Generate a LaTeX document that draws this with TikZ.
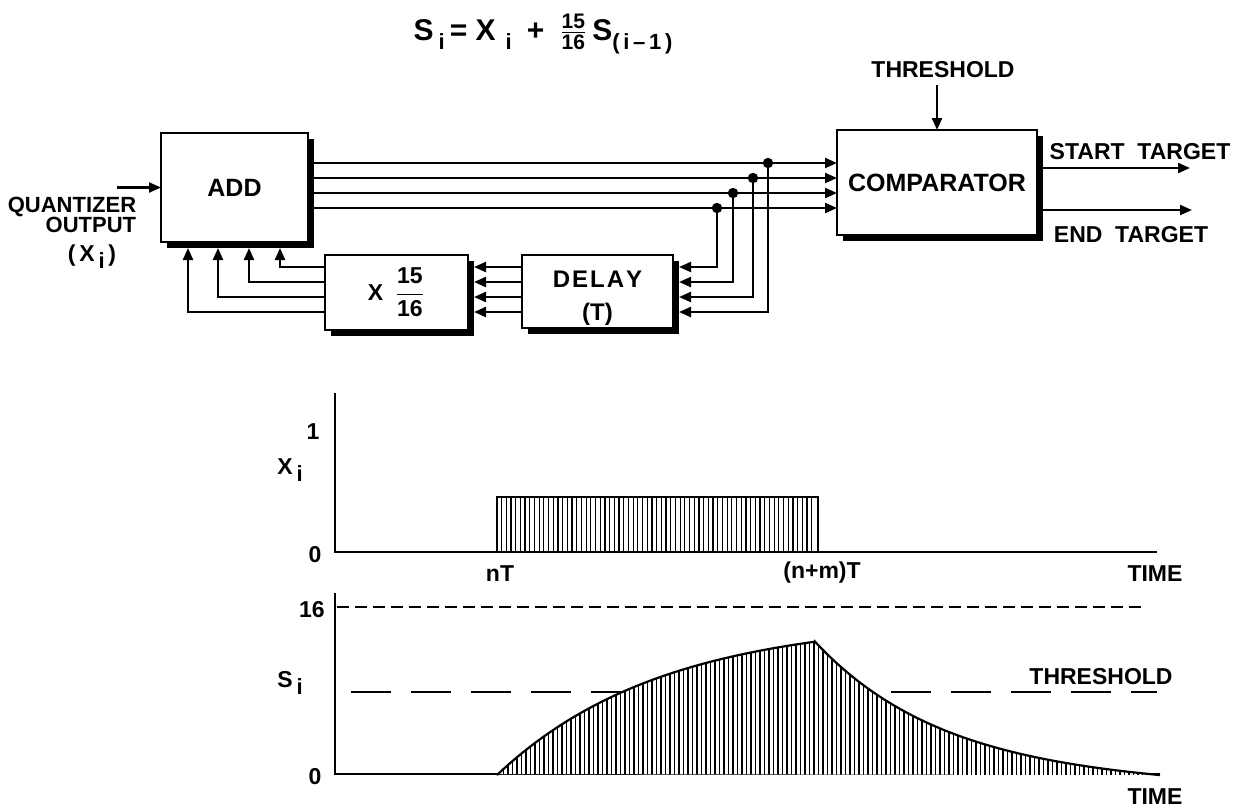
\documentclass[tikz,border=0pt]{standalone}
\usepackage{amsmath}
\usepackage{fontspec}
\setmainfont{Liberation Sans}
\usetikzlibrary{arrows.meta,shadows}

\newcommand{\lowsub}[1]{\raisebox{-0.6ex}{\fontsize{11pt}{11pt}\selectfont\bfseries #1}}

\tikzset{
  blk/.style={draw, line width=1pt, fill=white, inner sep=0pt, outer sep=0pt, align=center,
    drop shadow={shadow xshift=3pt, shadow yshift=-3pt, opacity=1, fill=black}},
  wire/.style={line width=1.1pt, ->},
  axis/.style={line width=1.1pt},
  hatch/.style={line width=0.6pt},
}

\begin{document}
\begin{tikzpicture}[x=0.5pt, y=-0.5pt, font=\fontsize{11.5pt}{14pt}\selectfont\bfseries,
  >={Triangle[length=6pt,width=5pt]}]
\useasboundingbox (0,0) rectangle (1243,811);

% recursion formula
\node[font=\fontsize{15pt}{17pt}\selectfont\bfseries, anchor=base] (eq) at (543,40)
  {S\,\lowsub{i}\,= X\,\,\lowsub{i}\enspace+\enspace$\frac{\text{15}}{\text{16}}$\,S\lowsub{(\,i\,--\,1\,)}};

% blocks
\node[blk, minimum width=73.5pt, minimum height=54.5pt, font=\fontsize{12.5pt}{14pt}\selectfont\bfseries] (add) at (234.5,187.5) {ADD};
\node[blk, minimum width=100pt, minimum height=52.5pt, font=\fontsize{12.5pt}{14pt}\selectfont\bfseries] (comp) at (937,182.5) {COMPARATOR};
\node[blk, minimum width=71.5pt, minimum height=37.5pt] (mult) at (396.5,292.5) {X\enspace$\dfrac{\text{15}}{\text{16}}$};
\node[blk, minimum width=75.5pt, minimum height=36.5pt, font=\fontsize{12pt}{16.5pt}\selectfont\bfseries] (delay) at (597.5,291.5) {\rule{0pt}{15pt}D\kern1pt E\kern1pt L\kern1pt A\kern1pt Y\\(T)};

% labels
\node[align=right, font=\fontsize{11pt}{10pt}\selectfont\bfseries] (quant) at (72,214.5) {QUANTIZER\\OUTPUT};
\node (xin) at (92,257) {(\,X\,\lowsub{i}\,)};
\node (thr) at (943,70) {THRESHOLD};
\node (stl) at (1140,152) {START\ \ TARGET};
\node (etl) at (1131,235) {END\ \ TARGET};

% levels of the bus and the feedback lines
\coordinate (qin) at (117,187.5);
\coordinate (st) at (1190,168);
\coordinate (et) at (1192,210);
\foreach \n/\y in {1/163,2/178,3/193,4/208} \coordinate (b\n) at (0,\y);
\foreach \n/\y in {1/267,2/282,3/297,4/312} \coordinate (f\n) at (0,\y);
\foreach \n/\x in {1/768,2/753,3/733,4/717} \coordinate (t\n) at (\x,0);

% connectors
\draw[wire] (qin) -- (add.west);
\foreach \n in {1,...,4} \draw[wire] (add.east |- b\n) -- (comp.west |- b\n);
\foreach \n/\m in {1/4,2/3,3/2,4/1} {
  \fill (t\n |- b\n) circle[radius=2.6pt];
  \draw[wire] (t\n |- b\n) |- ([xshift=3pt]delay.east |- f\m);
}
\foreach \n in {1,...,4} \draw[wire] (delay.west |- f\n) -- ([xshift=3pt]mult.east |- f\n);
\foreach \n/\dx in {1/59.5,2/44,3/28.5,4/13.5}
  \draw[wire] (mult.west |- f\n) -| ([xshift=\dx pt, yshift=-3pt]add.south west);
\draw[wire] (thr.south -| comp.north) -- (comp.north);
\draw[wire] (comp.east |- st) -- (st);
\draw[wire] (comp.east |- et) -- (et);

% input graph
\draw[axis] (335,393) -- (335,552) -- (1157,552);
\foreach \x in {501.5,506.2,...,815} \draw[hatch] (\x,497) -- (\x,552);
\draw[axis] (497,552) -- (497,497) -- (818,497) -- (818,552);
\node (one) at (313,432) {1};
\node (xl) at (290,470) {X\,\lowsub{i}};
\node (zeroa) at (315,555) {0};
\node (nt) at (500,574) {nT};
\node (nmt) at (822,573) {(n+m)T};
\node (timea) at (1155,574) {TIME};

% sum graph
\draw[axis] (335,593) -- (335,774) -- (1160,774);
\draw[line width=1pt, dash pattern=on 6pt off 3pt] (337,607) -- (1142,607);
\draw[line width=1.1pt, dash pattern=on 20pt off 10pt] (351,692) -- (1157,692);
\begin{scope}
\clip (497,774) -- plot[domain=497:815, samples=50] (\x,{775-156*(1-exp(-(\x-497)/165))})
  -- plot[domain=815:1160, samples=50] (\x,{775-133.3*(exp(-(\x-815)/127)-0.0666*(\x-815)/345)}) -- cycle;
\fill[white] (490,600) rectangle (1165,780);
\foreach \x in {499,503.5,...,1160} \draw[hatch] (\x,630) -- (\x,775);
\end{scope}
\draw[axis] plot[domain=497:815, samples=50] (\x,{775-156*(1-exp(-(\x-497)/165))})
  -- plot[domain=815:1160, samples=50] (\x,{775-133.3*(exp(-(\x-815)/127)-0.0666*(\x-815)/345)});
\node (sixteen) at (312,610) {16};
\node (sl) at (290,683) {S\,\lowsub{i}};
\node (zerob) at (315,777) {0};
\node (thl) at (1101,677) {THRESHOLD};
\node (timeb) at (1155,797) {TIME};
\end{tikzpicture}
\end{document}
